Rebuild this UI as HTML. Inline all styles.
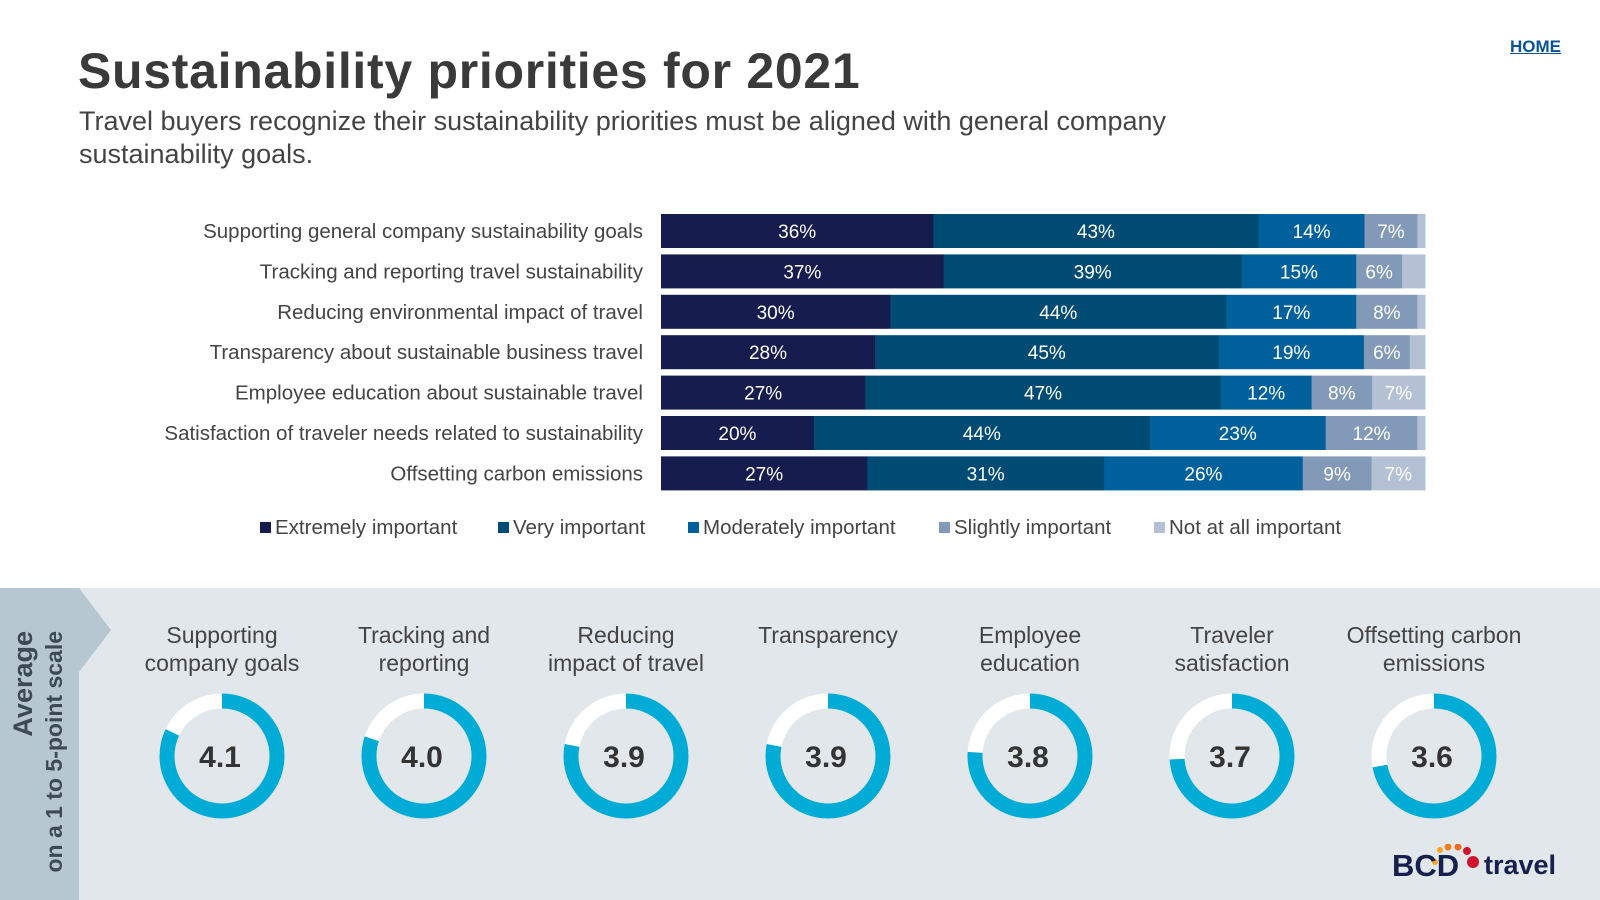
<!DOCTYPE html>
<html><head><meta charset="utf-8"><style>
body{margin:0;width:1600px;height:900px;background:#fff;font-family:"Liberation Sans",sans-serif;overflow:hidden;position:relative}
.abs{position:absolute}
</style></head><body>
<div class="abs" style="left:78px;top:42px;font-size:50px;font-weight:bold;color:#3a3a3a;letter-spacing:0.7px">Sustainability priorities for 2021</div>
<div class="abs" style="left:79px;top:105px;font-size:27px;color:#444;line-height:33px;width:1300px">Travel buyers recognize their sustainability priorities must be aligned with general company<br>sustainability goals.</div>
<a class="abs" style="left:1510px;top:37px;font-size:17px;font-weight:bold;color:#0b5394;text-decoration:underline">HOME</a>
<svg id="bars" class="abs" style="left:0;top:0" width="1600" height="560"></svg>
<div class="abs" style="left:0;top:588px;width:1600px;height:312px;background:#e1e7eb"></div>
<div class="abs" style="left:0;top:588px;width:79px;height:312px;background:#b7c7d2"></div>
<svg class="abs" style="left:79px;top:588px" width="40" height="90"><polygon points="0,0 32,42 0,84" fill="#b7c7d2"/></svg>
<div class="abs" style="left:39px;top:756px;width:250px;transform:translate(-50%,-50%) rotate(-90deg);white-space:nowrap;text-align:right;color:#3d4a55;font-weight:bold;line-height:31px"><div style="font-size:27px">Average</div><div style="font-size:23px">on a 1 to 5-point scale</div></div>
<svg id="donuts" class="abs" style="left:0;top:588px" width="1600" height="312"></svg>
<div class="abs" style="left:1392px;top:844px;height:40px;width:180px">
<svg width="180" height="40" style="position:absolute;left:0;top:0"><circle cx="48" cy="6" r="3" fill="#f5a623"/><circle cx="56" cy="3" r="3.5" fill="#f07d22"/><circle cx="66" cy="3" r="3.5" fill="#ee6a21"/><circle cx="75" cy="7" r="4" fill="#d0142c"/><circle cx="81" cy="18" r="6" fill="#d0142c"/><circle cx="43" cy="18" r="3" fill="#f5a623"/></svg>
<span style="position:absolute;left:0;top:4px;font-size:31px;font-weight:900;color:#15204e;letter-spacing:0px">BCD</span>
<span style="position:absolute;left:92px;top:6px;font-size:27px;font-weight:bold;color:#15204e">travel</span></div>
<script>
const categories=["Supporting general company sustainability goals","Tracking and reporting travel sustainability","Reducing environmental impact of travel","Transparency about sustainable business travel","Employee education about sustainable travel","Satisfaction of traveler needs related to sustainability","Offsetting carbon emissions"];
const extremely=[36,37,30,28,27,20,27];
const very=[43,39,44,45,47,44,31];
const moderately=[14,15,17,19,12,23,26];
const slightly=[7,6,8,6,8,12,9];
const notAtAll=[1,3,1,2,7,1,7];
const seriesNames=["Extremely important","Very important","Moderately important","Slightly important","Not at all important"];
const donutLabels=[["Supporting","company goals"],["Tracking and","reporting"],["Reducing","impact of travel"],["Transparency",""],["Employee","education"],["Traveler","satisfaction"],["Offsetting carbon","emissions"]];
const averages=[4.1,4.0,3.9,3.9,3.8,3.7,3.6];
const scaleMax=5;

const NS="http://www.w3.org/2000/svg";
function mk(p,t,a){const e=document.createElementNS(NS,t);for(const k in a)e.setAttribute(k,a[k]);p.appendChild(e);return e;}
const colors=["#161c4e","#004b74","#00609b","#8399b8","#b4c1d4"];
const series=[extremely,very,moderately,slightly,notAtAll];
const svg=document.getElementById('bars');
const x0=661,x1=1425,rowTop=214,pitch=40.4,bh=34;
const xs=v=>v*(x1-x0)/100;
categories.forEach((c,i)=>{
  const y=rowTop+i*pitch;
  const tot=series.reduce((s,a)=>s+a[i],0);
  let x=x0;
  const lab=mk(svg,'text',{x:643,y:y+bh/2+7,'text-anchor':'end','font-size':20.5,fill:'#444'});
  lab.textContent=c;
  
  
  series.forEach((s,j)=>{
    const w=xs(s[i]*100/tot);
    const r=mk(svg,'rect',{x:x,y:y,width:w+0.5,height:bh,fill:colors[j]});
    
    
    if(w>25){const t=mk(svg,'text',{x:x+w/2,y:y+bh/2+7,'text-anchor':'middle','font-size':19,fill:'#fff'});t.textContent=s[i]+'%';
      
      }
    x+=w;
  });
});
const legX=[260,498,688,939,1154];
seriesNames.forEach((n,j)=>{
  const g=mk(svg,'g',{});
  
  
  mk(g,'rect',{x:legX[j],y:522,width:11,height:11,fill:colors[j]});
  const t=mk(g,'text',{x:legX[j]+15,y:534,'font-size':20.5,fill:'#444'});t.textContent=n;
});
const d=document.getElementById('donuts');
const cxs=[222,424,626,828,1030,1232,1434];
const R=55,cy=168;
averages.forEach((v,i)=>{
  const g=mk(d,'g',{});
  
  
  const cx=cxs[i];
  mk(g,'circle',{cx:cx,cy:cy,r:R,fill:'none',stroke:'#fff','stroke-width':15});
  const C=2*Math.PI*R;
  const f=v/scaleMax;
  mk(g,'circle',{cx:cx,cy:cy,r:R,fill:'none',stroke:'#00acd6','stroke-width':15,'stroke-dasharray':(C*f)+' '+C,transform:`rotate(-90 ${cx} ${cy})`});
  const t=mk(g,'text',{x:cx-2,y:cy+11,'text-anchor':'middle','font-size':30,'font-weight':'bold',fill:'#333'});t.textContent=v.toFixed(1);
  donutLabels[i].forEach((l,k)=>{const tt=mk(g,'text',{x:cx,y:55+k*28,'text-anchor':'middle','font-size':23,fill:'#444'});tt.textContent=l;});
});
</script>
</body></html>
